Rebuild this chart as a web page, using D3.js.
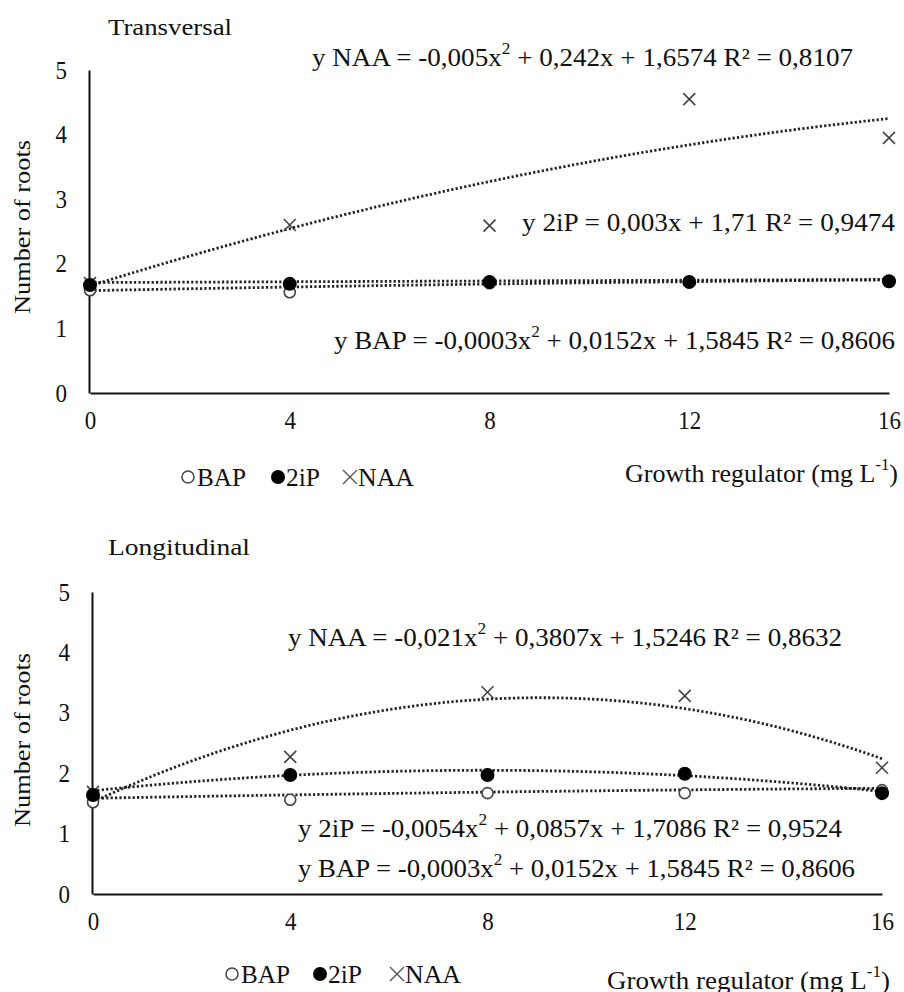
<!DOCTYPE html>
<html lang="en">
<head>
<meta charset="UTF-8">
<script src="https://d3js.org/d3.v7.min.js"></script>
<style>
  body { margin: 0; background: #fff; }
  svg text { font-family: "Liberation Serif", "Times New Roman", serif !important; fill: #111; }
</style>
</head>
<body>
<div id="plot"></div>
<script>
// doses of growth regulator (mg L-1)
const doses = [0, 4, 8, 12, 16];
const yTicks = [0, 1, 2, 3, 4, 5];

// Transversal
const transBAP = [1.59, 1.56, 1.70, 1.71, 1.72];
const trans2iP = [1.67, 1.69, 1.72, 1.72, 1.73];
const transNAA = [1.70, 2.60, 2.59, 4.55, 3.95];
// Longitudinal
const longBAP = [1.52, 1.56, 1.67, 1.67, 1.72];
const long2iP = [1.64, 1.97, 1.97, 1.99, 1.67];
const longNAA = [1.69, 2.27, 3.34, 3.28, 2.09];

// fitted equations printed on the chart (a x^2 + b x + c)
const transFitBAP = [-0.0003, 0.0152, 1.5845];
const transFit2iP = [0, 0.003, 1.71];
const transFitNAA = [-0.005, 0.242, 1.6574];
const longFitBAP = [-0.0003, 0.0152, 1.5845];
const longFit2iP = [-0.0054, 0.0857, 1.7086];
const longFitNAA = [-0.021, 0.3807, 1.5246];

const W = 904, H = 992;
const svg = d3.select("#plot").append("svg").attr("width", W).attr("height", H);

// text squeezed to the width seen in the figure (the original type is narrow and tall)
function label(g, x, y, len, size, parts) {
  const t = g.append("text").attr("x", x).attr("y", y).attr("font-size", size)
    .attr("dominant-baseline", "central");
  parts.forEach(([s, sup]) => {
    const sp = t.append("tspan").text(s);
    if (sup) sp.attr("baseline-shift", "super").attr("font-size", Math.round(size * 0.62));
  });
  if (len) t.attr("textLength", len).attr("lengthAdjust", "spacingAndGlyphs");
  return t;
}

function panel(o) {
  const x = d3.scaleLinear().domain([0, 16]).range(o.xr);
  const y = d3.scaleLinear().domain([0, 5]).range(o.yr);
  const g = svg.append("g");

  label(g, 108, o.titleY, o.titleLen, 24, [[o.title]]);

  // y label
  g.append("text").attr("transform", `translate(22,${o.ylabY}) rotate(-90)`)
    .attr("text-anchor", "middle").attr("dominant-baseline", "central")
    .attr("font-size", 24).attr("textLength", 174).attr("lengthAdjust", "spacingAndGlyphs")
    .text("Number of roots");

  // axes
  const yAxis = d3.axisLeft(y).tickValues(yTicks).tickFormat(d3.format("d")).tickSize(0).tickPadding(22);
  const ya = g.append("g").attr("transform", `translate(${o.xr[0] - 1},0)`).call(yAxis);
  ya.select(".domain").attr("stroke", "#111").attr("stroke-width", 2);
  ya.selectAll("text").attr("font-size", 25).attr("fill", "#111")
    .attr("textLength", d => String(d).length * 11.5).attr("lengthAdjust", "spacingAndGlyphs");

  const xAxis = d3.axisBottom(x).tickValues(doses).tickFormat(d3.format("d")).tickSize(0).tickPadding(18);
  const xa = g.append("g").attr("transform", `translate(0,${o.yr[0]})`).call(xAxis);
  xa.select(".domain").attr("stroke", "#111").attr("stroke-width", 2);
  xa.selectAll("text").attr("font-size", 25).attr("fill", "#111")
    .attr("textLength", d => String(d).length * 11.5).attr("lengthAdjust", "spacingAndGlyphs");

  // trend lines
  const xs = d3.range(0, 16.001, 0.25);
  const line = d3.line().x(d => x(d[0])).y(d => y(d[1]));
  o.fits.forEach(f => {
    g.append("path")
      .datum(xs.map(v => [v, f[0] * v * v + f[1] * v + f[2]]))
      .attr("d", line).attr("fill", "none").attr("stroke", "#222")
      .attr("stroke-width", 2.8).attr("stroke-dasharray", "2.2,2.2");
  });

  // markers
  g.selectAll(".naa").data(o.naa).join("path")
    .attr("transform", (d, i) => `translate(${x(doses[i])},${y(d)})`)
    .attr("d", "M-6,-6L6,6M-6,6L6,-6").attr("stroke", "#444").attr("stroke-width", 1.6);
  g.selectAll(".bap").data(o.bap).join("circle")
    .attr("cx", (d, i) => x(doses[i])).attr("cy", d => y(d)).attr("r", 5.5)
    .attr("fill", "#fff").attr("stroke", "#444").attr("stroke-width", 1.6);
  g.selectAll(".ip").data(o.ip).join("circle")
    .attr("cx", (d, i) => x(doses[i])).attr("cy", d => y(d)).attr("r", 7)
    .attr("fill", "#000");

  // equations
  o.eqs.forEach(e => label(g, e.x, e.y, e.len, 25, e.parts));

  // x label
  label(g, o.xlab[0], o.xlab[1], o.xlab[2], 25, [["Growth regulator (mg L"], ["-1", true], [")"]]);

  // legend
  const L = o.leg, ly = L.y;
  g.append("circle").attr("cx", L.c).attr("cy", ly).attr("r", 6).attr("fill", "none")
    .attr("stroke", "#444").attr("stroke-width", 1.5);
  label(g, L.c + 9, ly, 49, 25, [["BAP"]]);
  g.append("circle").attr("cx", L.d).attr("cy", ly).attr("r", 7).attr("fill", "#000");
  label(g, L.d + 8, ly, 34, 25, [["2iP"]]);
  g.append("path").attr("transform", `translate(${L.x},${ly})`)
    .attr("d", "M-7,-7L7,7M-7,7L7,-7").attr("stroke", "#555").attr("stroke-width", 1.4);
  label(g, L.x + 8, ly, 56, 25, [["NAA"]]);
}

panel({
  title: "Transversal", titleY: 27, titleLen: 124, ylabY: 227,
  xr: [90, 889], yr: [393, 70],
  bap: transBAP, ip: trans2iP, naa: transNAA,
  fits: [transFitBAP, transFit2iP, transFitNAA],
  eqs: [
    { x: 312, y: 57, len: 541, parts: [["y NAA = -0,005x"], ["2", true], [" + 0,242x + 1,6574  R² = 0,8107"]] },
    { x: 522, y: 222, len: 373, parts: [["y 2iP = 0,003x + 1,71  R² = 0,9474"]] },
    { x: 334, y: 340, len: 561, parts: [["y BAP = -0,0003x"], ["2", true], [" + 0,0152x + 1,5845  R² = 0,8606"]] }
  ],
  xlab: [625, 473, 273],
  leg: { y: 477, c: 188, d: 278, x: 350 }
});

panel({
  title: "Longitudinal", titleY: 547, titleLen: 142, ylabY: 740,
  xr: [93, 882], yr: [894, 592],
  bap: longBAP, ip: long2iP, naa: longNAA,
  fits: [longFitBAP, longFit2iP, longFitNAA],
  eqs: [
    { x: 288, y: 637, len: 554, parts: [["y NAA = -0,021x"], ["2", true], [" + 0,3807x + 1,5246  R² = 0,8632"]] },
    { x: 298, y: 828, len: 544, parts: [["y 2iP = -0,0054x"], ["2", true], [" + 0,0857x + 1,7086  R² = 0,9524"]] },
    { x: 298, y: 868, len: 557, parts: [["y BAP = -0,0003x"], ["2", true], [" + 0,0152x + 1,5845  R² = 0,8606"]] }
  ],
  xlab: [607, 980, 283],
  leg: { y: 974, c: 232, d: 320, x: 397 }
});
</script>
</body>
</html>
